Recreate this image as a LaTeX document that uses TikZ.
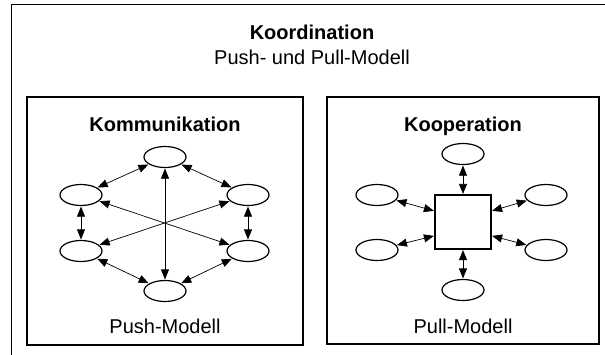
\documentclass[tikz,border=0pt]{standalone}
\usepackage{fontspec}
\setmainfont{Liberation Sans}
\usetikzlibrary{arrows.meta,shapes.geometric,calc}
\begin{document}
\begin{tikzpicture}[x=1pt,y=-1pt,
  box/.style={draw,line width=1.3pt},
  ell/.style={draw,ellipse,line width=1.2pt,minimum width=42pt,minimum height=21pt,inner sep=0pt},
  sqbox/.style={draw,rectangle,line width=1.2pt,minimum width=56pt,minimum height=54pt,inner sep=0pt},
  dar/.style={{Triangle[length=10pt,width=8pt]}-{Triangle[length=10pt,width=8pt]},line width=0.7pt,shorten <=0.5pt,shorten >=0.5pt},
  ttl/.style={font=\fontsize{20}{24}\selectfont\bfseries,anchor=base,inner sep=0pt},
  sub/.style={font=\fontsize{20}{24}\selectfont,anchor=base,inner sep=0pt}]
\useasboundingbox (0,0) rectangle (605,354);
\fill[white] (0,0) rectangle (605,354);
% outer frame (cropped)
\draw[line width=1pt] (11,380) -- (11,4) -- (640,4);
\node[ttl] (t1) at (312,39) {Koordination};
\node[sub] (t2) at (312,64) {Push- und Pull-Modell};
% left box
\draw[box] (27,97) rectangle (303,345);
\node[ttl] (k1) at (165,131) {Kommunikation};
\node[sub] (k2) at (165,333) {Push-Modell};
\node[ell] (a) at (165,157) {};
\node[ell] (b) at (81,195) {};
\node[ell] (c) at (248,195) {};
\node[ell] (d) at (81,251) {};
\node[ell] (e) at (248,251) {};
\node[ell] (f) at (165,291) {};
\draw[dar] (a) -- (b);
\draw[dar] (a) -- (c);
\draw[dar] (b) -- (d);
\draw[dar] (c) -- (e);
\draw[dar] (d) -- (f);
\draw[dar] (e) -- (f);
\draw[dar] (a) -- (f);
\draw[dar] (b) -- (e);
\draw[dar] (c) -- (d);
% right box
\draw[box] (327,97) rectangle (599,344);
\node[ttl] (p1) at (463,131) {Kooperation};
\node[sub] (p2) at (463,333) {Pull-Modell};
\node[sqbox] (s) at (463,222) {};
\node[ell] (g) at (463,154) {};
\node[ell] (h) at (377,195) {};
\node[ell] (i) at (546,195) {};
\node[ell] (j) at (377,250) {};
\node[ell] (k) at (546,250) {};
\node[ell] (l) at (463,290) {};
\coordinate (sul) at ($(s.north west)!0.3!(s.south west)$);
\coordinate (sll) at ($(s.north west)!0.75!(s.south west)$);
\coordinate (sur) at ($(s.north east)!0.3!(s.south east)$);
\coordinate (slr) at ($(s.north east)!0.75!(s.south east)$);
\draw[dar] (g) -- (s);
\draw[dar] (l) -- (s);
\draw[dar] (h) -- (sul);
\draw[dar] (j) -- (sll);
\draw[dar] (i) -- (sur);
\draw[dar] (k) -- (slr);
\end{tikzpicture}
\end{document}
